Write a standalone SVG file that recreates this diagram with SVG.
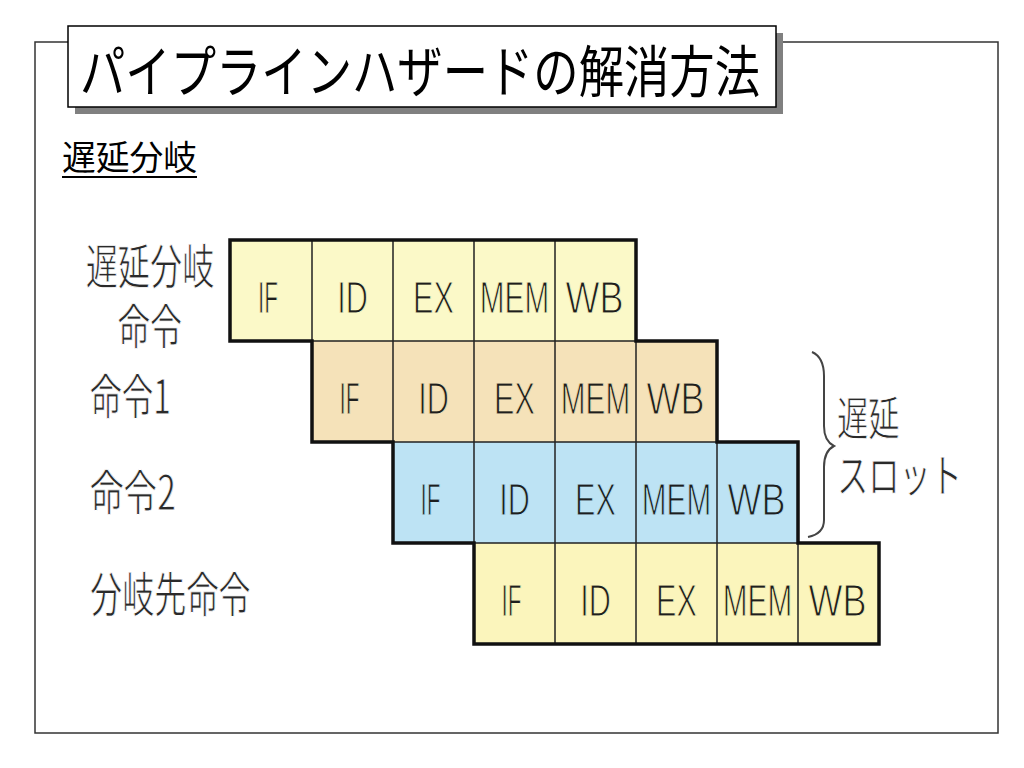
<svg xmlns="http://www.w3.org/2000/svg" width="1024" height="768" viewBox="0 0 1024 768">
<style>
.jp{font-family:"Noto Sans CJK JP","Noto Sans",sans-serif;fill:#2a2a2a;stroke:#fff;stroke-width:0.9}
.cell{font-family:"Liberation Sans","Arial",sans-serif;font-size:45px;fill:#1e1e1e;text-anchor:middle;stroke-width:1.1}
.r1 .cell{stroke:#fbf9c8}
.r2 .cell{stroke:#f5e2b9}
.r3 .cell{stroke:#bde3f4}
.r4 .cell{stroke:#fbf5bc}
.thin{stroke:#222;stroke-width:1.5;fill:none}
.thick{stroke:#111;stroke-width:3.5;fill:none;stroke-linejoin:miter}
</style>
<rect width="1024" height="768" fill="#fff"/>
<g id="frame">
<rect x="35" y="42" width="963" height="691" fill="#fff" stroke="#333" stroke-width="1.5"/>
</g>
<g id="title">
<rect x="75" y="33" width="708" height="81" fill="#808080"/>
<rect x="68" y="26" width="708" height="81" fill="#fff" stroke="#000" stroke-width="1.5"/>
<text x="80" y="92" font-size="56" textLength="680" lengthAdjust="spacingAndGlyphs" style="font-family:'Noto Sans CJK JP','Noto Sans',sans-serif;fill:#000">パイプラインハザードの解消方法</text>
</g>
<g id="subtitle">
<text x="62" y="170" font-size="34" textLength="135" lengthAdjust="spacingAndGlyphs" style="font-family:'Noto Sans CJK JP','Noto Sans',sans-serif;fill:#000">遅延分岐</text>
<line x1="62" y1="177" x2="197" y2="177" stroke="#000" stroke-width="2"/>
</g>
<g id="labels">
<text class="jp" font-size="48" text-anchor="middle" transform="translate(150,0) scale(0.67,1)"><tspan x="0" y="284">遅延分岐</tspan><tspan x="0" y="344">命令</tspan></text>
<text class="jp" font-size="48" transform="translate(90,414) scale(0.66,1)">命令1</text>
<text class="jp" font-size="48" transform="translate(90,510) scale(0.7,1)">命令2</text>
<text class="jp" font-size="48" transform="translate(90,612) scale(0.67,1)">分岐先命令</text>
</g>
<g id="row1" class="r1">
<rect x="230" y="240" width="406" height="101" fill="#fbf9c8"/>
<text class="cell" transform="translate(268,313) scale(0.5,1)">IF</text>
<text class="cell" transform="translate(352.5,313) scale(0.68,1)">ID</text>
<text class="cell" transform="translate(433.5,313) scale(0.68,1)">EX</text>
<text class="cell" transform="translate(514.5,313) scale(0.66,1)">MEM</text>
<text class="cell" transform="translate(594.5,313) scale(0.8,1)">WB</text>
</g>
<g id="row2" class="r2">
<rect x="312" y="341" width="405" height="101" fill="#f5e2b9"/>
<text class="cell" transform="translate(349.5,414) scale(0.5,1)">IF</text>
<text class="cell" transform="translate(433.5,414) scale(0.68,1)">ID</text>
<text class="cell" transform="translate(514.5,414) scale(0.68,1)">EX</text>
<text class="cell" transform="translate(595.5,414) scale(0.66,1)">MEM</text>
<text class="cell" transform="translate(675.5,414) scale(0.8,1)">WB</text>
</g>
<g id="row3" class="r3">
<rect x="393" y="442" width="405" height="101" fill="#bde3f4"/>
<text class="cell" transform="translate(430.5,515) scale(0.5,1)">IF</text>
<text class="cell" transform="translate(514.5,515) scale(0.68,1)">ID</text>
<text class="cell" transform="translate(595.5,515) scale(0.68,1)">EX</text>
<text class="cell" transform="translate(676.5,515) scale(0.66,1)">MEM</text>
<text class="cell" transform="translate(756.5,515) scale(0.8,1)">WB</text>
</g>
<g id="row4" class="r4">
<rect x="474" y="543" width="405" height="101" fill="#fbf5bc"/>
<text class="cell" transform="translate(511.5,616) scale(0.5,1)">IF</text>
<text class="cell" transform="translate(595.5,616) scale(0.68,1)">ID</text>
<text class="cell" transform="translate(676.5,616) scale(0.68,1)">EX</text>
<text class="cell" transform="translate(757.5,616) scale(0.66,1)">MEM</text>
<text class="cell" transform="translate(837.5,616) scale(0.8,1)">WB</text>
</g>
<g id="connectors">
<path class="thin" d="M312,240V442 M393,240V543 M474,240V644 M555,240V644 M636,341V644 M717,442V644 M798,543V644 M312,341H636 M393,442H717 M474,543H798"/>
<path class="thick" d="M230,240H636V341H717V442H798V543H879V644H474V543H393V442H312V341H230Z"/>
</g>
<g id="slot">
<path d="M812,352 C821,356 824,364 824,376 L824,426 C824,437 828,443 834,446 C828,449 824,456 824,467 L824,520 C824,530 818,535 808,537" fill="none" stroke="#444" stroke-width="2"/>
<text class="jp" font-size="46" transform="translate(837,0) scale(0.68,1)"><tspan x="0" y="435">遅延</tspan><tspan x="0" y="492">スロット</tspan></text>
</g>
</svg>
